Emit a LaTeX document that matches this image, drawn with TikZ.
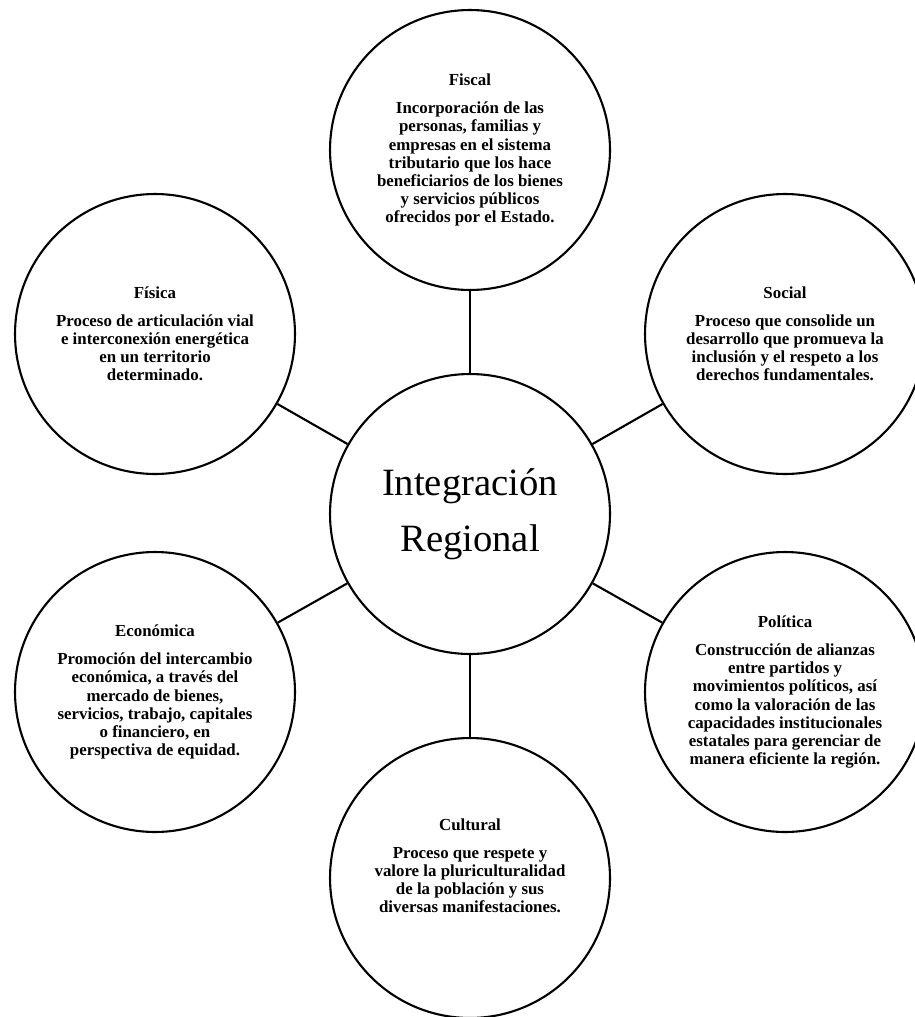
\documentclass[tikz,border=0pt]{standalone}
\usepackage{fontspec}
\setmainfont{Liberation Serif}
\usepackage{tikz}
\usetikzlibrary{positioning}
\tikzset{
  tema/.style={draw, circle, line width=1.2pt, minimum size=5.6cm, inner sep=0pt},
  texto/.style={align=center, font=\bfseries\fontsize{9.6}{10.3}\selectfont},
  enlace/.style={line width=1.2pt}}

\begin{document}
\begin{tikzpicture}[x=0.02cm, y=-0.02cm]
\useasboundingbox (0,0) rectangle (914,1017);
\coordinate (c) at (470,514);
\node [tema] (centro) at (c) {};
\node [align=center, font=\fontsize{22}{32}\selectfont] (titulo) at (c) {Integración\\Regional};
\node [tema] (fiscal) at (470,150) {};
\node [tema] (fisica) at (155,334) {};
\node [tema] (social) at (785,334) {};
\node [tema] (economica) at (155,692) {};
\node [tema] (politica) at (785,692) {};
\node [tema] (cultural) at (470,878) {};
\draw [enlace] (centro) -- (fiscal);
\draw [enlace] (centro) -- (fisica);
\draw [enlace] (centro) -- (social);
\draw [enlace] (centro) -- (economica);
\draw [enlace] (centro) -- (politica);
\draw [enlace] (centro) -- (cultural);
\node [texto] (fiscal-txt) at (fiscal) {Fiscal\\[0.2cm]
  Incorporación de las\\ personas, familias y\\ empresas en el sistema\\
  tributario que los hace\\ beneficiarios de los bienes\\ y servicios públicos\\
  ofrecidos por el Estado.};
\node [texto] (fisica-txt) at (fisica) {Física\\[0.2cm]
  Proceso de articulación vial\\ e interconexión energética\\ en un territorio\\ determinado.};
\node [texto] (social-txt) at (social) {Social\\[0.2cm]
  Proceso que consolide un\\ desarrollo que promueva la\\ inclusión y el respeto a los\\
  derechos fundamentales.};
\node [texto] (economica-txt) at (economica) {Económica\\[0.2cm]
  Promoción del intercambio\\ económica, a través del\\ mercado de bienes,\\
  servicios, trabajo, capitales\\ o financiero, en\\ perspectiva de equidad.};
\node [texto] (politica-txt) at (politica) {Política\\[0.2cm]
  Construcción de alianzas\\ entre partidos y\\ movimientos políticos, así\\
  como la valoración de las\\ capacidades institucionales\\ estatales para gerenciar de\\
  manera eficiente la región.};
\node [texto] (cultural-txt) at ([yshift=0.24cm]cultural) {Cultural\\[0.2cm]
  Proceso que respete y\\ valore la pluriculturalidad\\ de la población y sus\\
  diversas manifestaciones.};
\end{tikzpicture}
\end{document}
